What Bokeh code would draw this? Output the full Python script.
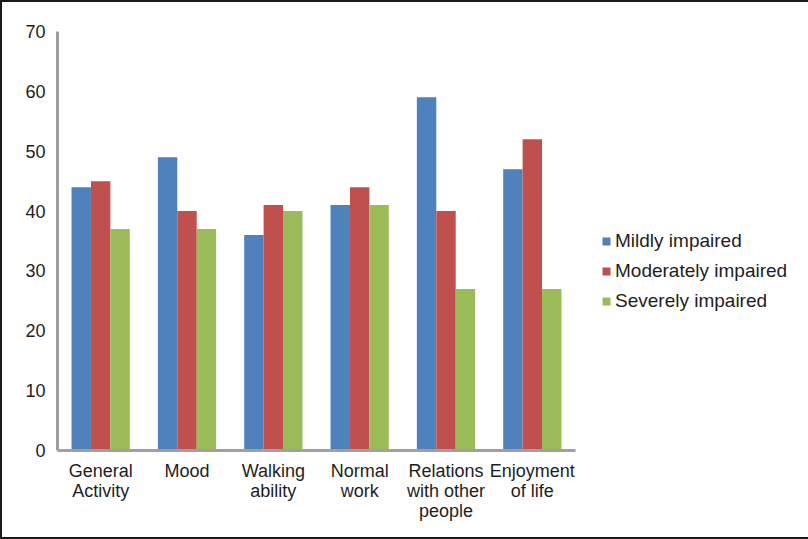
from bokeh.plotting import figure
from bokeh.models import (ColumnDataSource, FactorRange, Legend, LegendItem,
                          FixedTicker)
from bokeh.transform import dodge
from bokeh.embed import file_html
from bokeh.resources import INLINE

categories = ["General\nActivity", "Mood", "Walking\nability", "Normal\nwork",
              "Relations\nwith other\npeople", "Enjoyment\nof life"]
mildly = [44, 49, 36, 41, 59, 47]
moderately = [45, 40, 41, 44, 40, 52]
severely = [37, 37, 40, 41, 27, 27]
series_names = ["Mildly impaired", "Moderately impaired", "Severely impaired"]
colors = ["#4F81BD", "#C0504D", "#9BBB59"]
y_ticks = [0, 10, 20, 30, 40, 50, 60, 70]

src = ColumnDataSource(dict(cat=categories, m=mildly, mo=moderately, s=severely))

p = figure(x_range=FactorRange(*categories), y_range=(0, 70),
           frame_width=518, frame_height=419,
           output_backend="svg", toolbar_location=None,
           min_border_left=55, min_border_right=231, min_border_top=29,
           min_border_bottom=87)
p.styles = {"border": "2px solid #1a1a1a"}
p.outline_line_color = None
p.grid.grid_line_color = None

w = 0.225
r1 = p.vbar(x=dodge("cat", -w, range=p.x_range), top="m", width=w, source=src,
            fill_color=colors[0], line_color=None)
r2 = p.vbar(x=dodge("cat", 0, range=p.x_range), top="mo", width=w, source=src,
            fill_color=colors[1], line_color=None)
r3 = p.vbar(x=dodge("cat", w, range=p.x_range), top="s", width=w, source=src,
            fill_color=colors[2], line_color=None)

for ax in (p.xaxis[0], p.yaxis[0]):
    ax.axis_line_color = "#A0A0A0"
    ax.axis_line_width = 3
    ax.major_tick_line_color = None
    ax.minor_tick_line_color = None
    ax.major_tick_out = 0
    ax.major_tick_in = 0
    ax.major_label_text_font = "Liberation Sans"
    ax.major_label_text_font_size = "18px"
    ax.major_label_text_color = "#1e1e1e"

p.yaxis.ticker = FixedTicker(ticks=y_ticks)
p.yaxis.major_label_standoff = 12
p.xaxis.major_label_standoff = 10
p.xaxis.major_label_text_line_height = 1.0

legend = Legend(items=[LegendItem(label=series_names[0], renderers=[r1]),
                       LegendItem(label=series_names[1], renderers=[r2]),
                       LegendItem(label=series_names[2], renderers=[r3])],
                location=(26, 138))
legend.border_line_color = None
legend.background_fill_alpha = 0
legend.padding = 0
legend.margin = 0
legend.glyph_width = 10
legend.glyph_height = 10
legend.label_height = 20
legend.spacing = 8
legend.label_standoff = 4
legend.label_text_font = "Liberation Sans"
legend.label_text_font_size = "19px"
legend.label_text_color = "#1e1e1e"
p.add_layout(legend, "right")

open("out.html", "w").write(file_html(p, INLINE))
